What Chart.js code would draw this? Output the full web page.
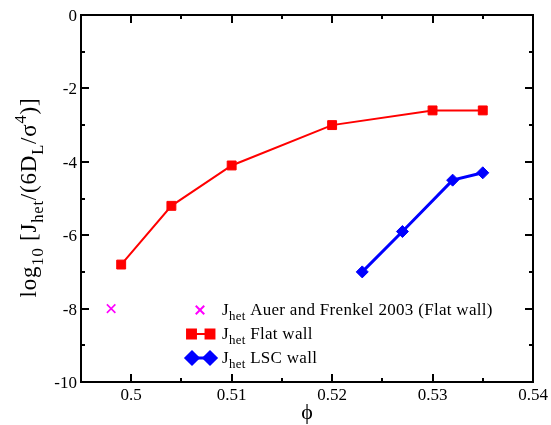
<!DOCTYPE html>
<html>
<head>
<meta charset="utf-8">
<script src="https://cdn.jsdelivr.net/npm/chart.js@4/dist/chart.umd.min.js"></script>
<style>
  html, body { margin: 0; padding: 0; background: #fff; }
  #wrap { width: 551px; height: 425px; }
</style>
</head>
<body>
<div id="wrap"><canvas id="chart" width="551" height="425"></canvas></div>
<script>
// data
const flatPhi = [0.499, 0.504, 0.51, 0.52, 0.53, 0.535];
const flatLogJ = [-6.8, -5.2, -4.1, -3.0, -2.6, -2.6];
const lscPhi = [0.523, 0.527, 0.532, 0.535];
const lscLogJ = [-7.0, -5.9, -4.5, -4.3];
const auerPhi = [0.498];
const auerLogJ = [-8.0];

const xTickVals = [0.5, 0.51, 0.52, 0.53, 0.54];
const xMinorVals = [0.5, 0.505, 0.51, 0.515, 0.52, 0.525, 0.53, 0.535];
const yTickVals = [0, -2, -4, -6, -8, -10];
const yMinorVals = [-1, -2, -3, -4, -5, -6, -7, -8, -9];

const legendLabels = ["Auer and Frenkel 2003 (Flat wall)", "Flat wall", "LSC wall"];

const SERIF = "'Liberation Serif', 'Times New Roman', serif";

const toPoints = (xs, ys) => xs.map((x, i) => ({ x: x, y: ys[i] }));

// runs of text: [text, kind] with kind '', 'sub' or 'sup'
function runWidth(ctx, runs, size, ratio) {
  let w = 0;
  runs.forEach(r => {
    ctx.font = (r[1] ? size * ratio : size) + "px " + SERIF;
    w += ctx.measureText(r[0]).width;
  });
  return w;
}
function drawRuns(ctx, runs, x, y, size, ratio) {
  ctx.textBaseline = "alphabetic";
  ctx.textAlign = "left";
  runs.forEach(r => {
    const s = r[1] ? size * ratio : size;
    ctx.font = s + "px " + SERIF;
    let dy = 0;
    if (r[1] === "sub") dy = size * 0.3;
    if (r[1] === "sup") dy = -size * 0.45;
    ctx.fillText(r[0], x, y + dy);
    x += ctx.measureText(r[0]).width;
  });
}

const framePlugin = {
  id: "frame",
  afterDatasetsDraw(chart) {
    const ctx = chart.ctx;
    const a = chart.chartArea;
    const xs = chart.scales.x, ys = chart.scales.y;
    ctx.save();
    ctx.strokeStyle = "#000";
    ctx.lineWidth = 2;
    ctx.strokeRect(a.left, a.top, a.right - a.left, a.bottom - a.top);

    // inward ticks on all four sides
    ctx.beginPath();
    xMinorVals.forEach(v => {
      const px = Math.round(xs.getPixelForValue(v));
      const len = xTickVals.some(t => Math.abs(t - v) < 1e-9) ? 8 : 4;
      ctx.moveTo(px, a.bottom); ctx.lineTo(px, a.bottom - len);
      ctx.moveTo(px, a.top); ctx.lineTo(px, a.top + len);
    });
    yMinorVals.forEach(v => {
      const py = Math.round(ys.getPixelForValue(v));
      const len = v % 2 === 0 ? 8 : 4;
      ctx.moveTo(a.left, py); ctx.lineTo(a.left + len, py);
      ctx.moveTo(a.right, py); ctx.lineTo(a.right - len, py);
    });
    ctx.stroke();

    // tick labels
    ctx.fillStyle = "#000";
    ctx.font = "17px " + SERIF;
    ctx.textBaseline = "alphabetic";
    ctx.textAlign = "center";
    xTickVals.forEach(v => {
      ctx.fillText(String(+v.toFixed(3)), xs.getPixelForValue(v), a.bottom + 18);
    });
    ctx.textAlign = "right";
    yTickVals.forEach(v => {
      ctx.fillText(String(v), a.left - 4, ys.getPixelForValue(v) + 6);
    });

    // legend
    const lx = 222;
    const rows = [310, 334, 358];
    ctx.strokeStyle = "#ff00ff";
    Chart.helpers.drawPoint(ctx, { pointStyle: "crossRot", radius: 6, borderWidth: 1.6 }, 200, rows[0]);

    ctx.strokeStyle = "#ff0000";
    ctx.fillStyle = "#ff0000";
    ctx.lineWidth = 2;
    ctx.beginPath(); ctx.moveTo(191, rows[1]); ctx.lineTo(210, rows[1]); ctx.stroke();
    Chart.helpers.drawPoint(ctx, { pointStyle: "rect", radius: 6.3, borderWidth: 1 }, 191.5, rows[1]);
    Chart.helpers.drawPoint(ctx, { pointStyle: "rect", radius: 6.3, borderWidth: 1 }, 210, rows[1]);

    ctx.strokeStyle = "#0000ff";
    ctx.fillStyle = "#0000ff";
    ctx.lineWidth = 3;
    ctx.beginPath(); ctx.moveTo(192, rows[2]); ctx.lineTo(210, rows[2]); ctx.stroke();
    Chart.helpers.drawPoint(ctx, { pointStyle: "rectRot", radius: 6, borderWidth: 1 }, 192, rows[2]);
    Chart.helpers.drawPoint(ctx, { pointStyle: "rectRot", radius: 6, borderWidth: 1 }, 210, rows[2]);

    ctx.fillStyle = "#000";
    ctx.letterSpacing = "0.3px";
    legendLabels.forEach((t, i) => {
      drawRuns(ctx, [["J", ""], ["het", "sub"], [" " + t, ""]], lx, rows[i] + 5, 17, 0.76);
    });

    // axis titles
    ctx.letterSpacing = "0px";
    ctx.font = "22px " + SERIF;
    ctx.textAlign = "center";
    ctx.textBaseline = "alphabetic";
    ctx.fillText("\u03d5", (a.left + a.right) / 2, 419);

    const tsize = 23;
    ctx.letterSpacing = "0.8px";
    const yRuns = [["log", ""], ["10", "sub"], [" [J", ""], ["het", "sub"], ["/(6D", ""], ["L", "sub"], ["/\u03c3", ""], ["4", "sup"], [")]", ""]];
    const w = runWidth(ctx, yRuns, tsize, 0.72);
    ctx.translate(36, (a.top + a.bottom) / 2 - 1);
    ctx.rotate(-Math.PI / 2);
    drawRuns(ctx, yRuns, -w / 2, 0, tsize, 0.72);
    ctx.restore();
  }
};

new Chart(document.getElementById("chart"), {
  type: "scatter",
  data: {
    datasets: [
      {
        label: "Auer and Frenkel 2003 (Flat wall)",
        data: toPoints(auerPhi, auerLogJ),
        showLine: false,
        pointStyle: "crossRot",
        pointRadius: 6,
        pointBorderWidth: 1.6,
        borderColor: "#ff00ff",
        backgroundColor: "#ff00ff"
      },
      {
        label: "Flat wall",
        data: toPoints(flatPhi, flatLogJ),
        showLine: true,
        borderColor: "#ff0000",
        backgroundColor: "#ff0000",
        borderWidth: 2,
        pointStyle: "rect",
        pointRadius: 6.3,
        pointBorderWidth: 1
      },
      {
        label: "LSC wall",
        data: toPoints(lscPhi, lscLogJ),
        showLine: true,
        borderColor: "#0000ff",
        backgroundColor: "#0000ff",
        borderWidth: 3,
        pointStyle: "rectRot",
        pointRadius: 6,
        pointBorderWidth: 1
      }
    ]
  },
  options: {
    responsive: false,
    animation: false,
    layout: { padding: { top: 15, right: 18, left: 0, bottom: 0 } },
    plugins: { legend: { display: false }, tooltip: { enabled: false } },
    scales: {
      x: {
        type: "linear",
        min: 0.495,
        max: 0.54,
        grid: { display: false, drawTicks: false },
        border: { display: false },
        ticks: { display: false },
        afterFit: s => { s.height = 43; }
      },
      y: {
        type: "linear",
        min: -10,
        max: 0,
        grid: { display: false, drawTicks: false },
        border: { display: false },
        ticks: { display: false },
        afterFit: s => { s.width = 81; }
      }
    }
  },
  plugins: [framePlugin]
});
</script>
</body>
</html>
